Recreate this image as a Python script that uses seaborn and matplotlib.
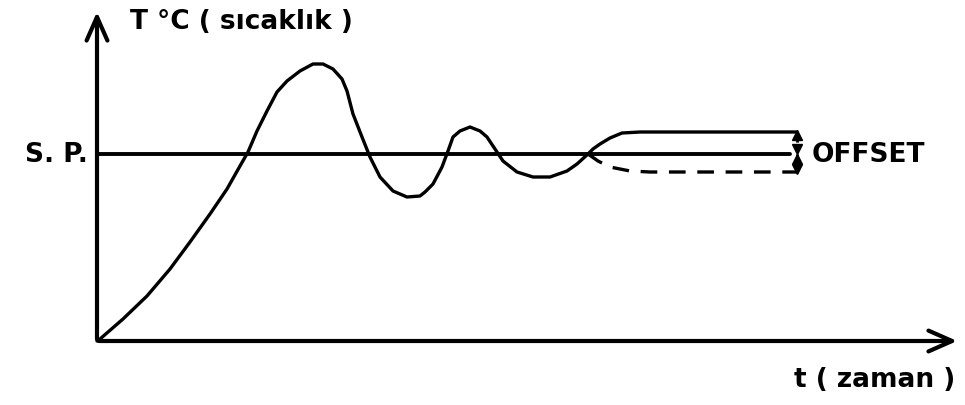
import matplotlib
matplotlib.use("Agg")
import matplotlib.pyplot as plt
import seaborn as sns
import pandas as pd

# Sketch of a controlled temperature response
# (time and temperature in drawing units, origin at the axes corner)
responseTime = [0, 3, 26, 50, 73, 93, 113, 130, 143, 151, 160, 170, 180, 190, 203,
                216, 226, 236, 245, 250, 256, 265, 273, 283, 296, 310, 323, 328,
                336, 345, 351, 356, 363, 373, 383, 390, 398, 406, 420, 436, 453,
                470, 480, 491]
responseTemp = [0, 2, 22, 45, 72, 99, 127, 152, 175, 189, 210, 230, 249, 260, 270,
                277, 277, 272, 262, 250, 227, 204, 184, 164, 150, 144, 145, 149,
                157, 174, 190, 204, 210, 214, 210, 204, 192, 180, 169, 164, 164,
                170, 177, 187]
upperTime = [491, 496, 503, 513, 525, 543, 700]
upperTemp = [187, 192, 197, 203, 208, 209, 209]
lowerTime = [491, 501, 513, 533, 553, 700]
lowerTemp = [187, 180, 174, 170, 169, 169]
setPointTime = [0, 693]
setPointTemp = [187, 187]
offsetTime = 700

sns.set_style("white")
plt.rcParams['font.family'] = ['DejaVu Sans']

fig = plt.figure(figsize=(9.65, 4.06), dpi=100)
ax = fig.add_axes([0, 0, 1, 1])
ax.set_xlim(-97, 868)
ax.set_ylim(-64, 342)
ax.axis('off')

lineColor = 'black'

# Axes with open arrow heads
ax.annotate('', xy=(0, 332), xytext=(0, -1),
            arrowprops=dict(arrowstyle='->,head_length=1.7,head_width=0.75',
                            color=lineColor, lw=3))
ax.annotate('', xy=(863, 0), xytext=(-1, 0),
            arrowprops=dict(arrowstyle='->,head_length=1.7,head_width=0.75',
                            color=lineColor, lw=3))

# Set point
sns.lineplot(x=setPointTime, y=setPointTemp, ax=ax, color=lineColor, lw=2.8,
             sort=False, estimator=None)

# Response curve and the two steady-state branches
curveDf = pd.DataFrame({'t': responseTime, 'T': responseTemp})
sns.lineplot(data=curveDf, x='t', y='T', ax=ax, color=lineColor, lw=2.4, sort=False,
             estimator=None, solid_joinstyle='round', solid_capstyle='round')
sns.lineplot(x=upperTime, y=upperTemp, ax=ax, color=lineColor, lw=2.4, sort=False,
             estimator=None, solid_joinstyle='round')
ax.plot(lowerTime, lowerTemp, color=lineColor, lw=2.4, dashes=(5, 3.5))

# Offset markers (two dotted double arrows meeting at the set point)
sp = setPointTemp[0]
ax.plot([offsetTime, offsetTime], [upperTemp[-1], lowerTemp[-1]], color=lineColor,
        lw=2, ls=':')
ax.plot([offsetTime, offsetTime], [upperTemp[-1] - 3, sp - 5], ls='none',
        marker='^', color=lineColor, markersize=7)
ax.plot([offsetTime, offsetTime], [sp + 5, lowerTemp[-1] + 3], ls='none',
        marker='v', color=lineColor, markersize=7)

textStyle = dict(fontsize=19, fontweight='bold', color=lineColor)
ax.text(715, sp, 'OFFSET', ha='left', va='center', **textStyle)
ax.text(-9, sp, 'S. P.', ha='right', va='center', **textStyle)
ax.text(33, 320, 'T °C ( sıcaklık )', ha='left', va='center', **textStyle)
ax.text(858, -38, 't ( zaman )', ha='right', va='center', **textStyle)

fig.savefig('out.png', dpi=100)
